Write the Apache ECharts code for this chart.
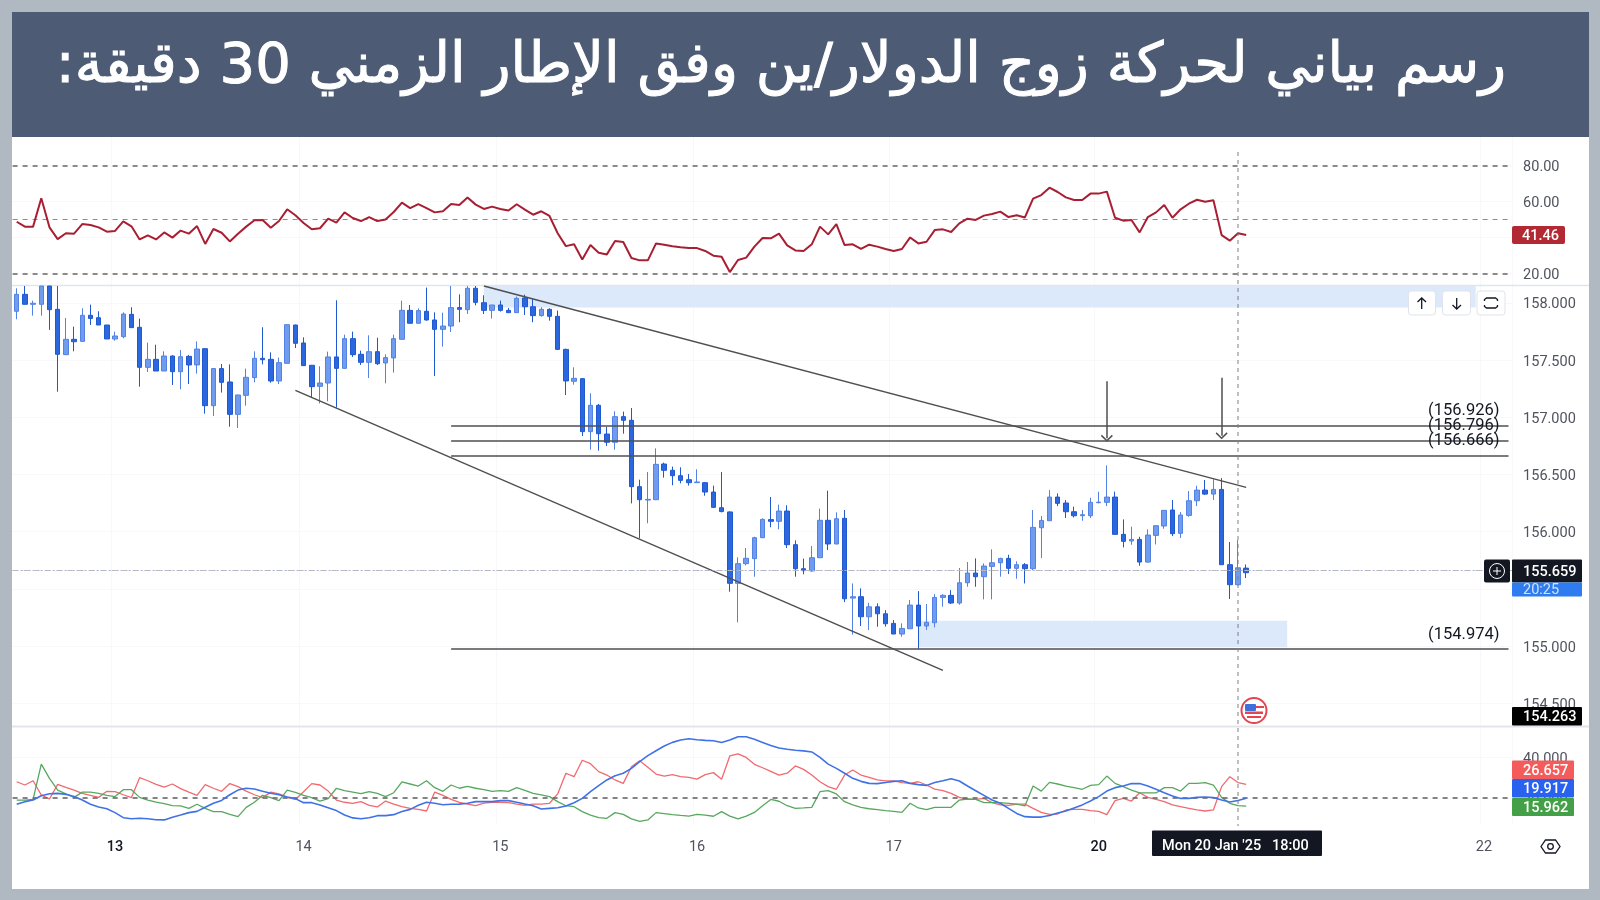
<!DOCTYPE html>
<html>
<head>
<meta charset="utf-8">
<style>html,body{margin:0;padding:0;background:#b0b8c1}#c{width:1600px;height:900px}</style>
<script src="https://cdn.jsdelivr.net/npm/echarts@6/dist/echarts.min.js"></script>
</head>
<body>
<div id="c"></div>
<script>
const titleText = '\u200Fرسم بياني لحركة زوج الدولار/ين وفق الإطار الزمني 30 دقيقة:\u200F';
const dayTicks = {12:'13',35:'14',59:'15',83:'16',107:'17',132:'20',179:'22'};
const strongDays = ['13','20'];
const slotCount = 183;
const categories = Array.from({length:slotCount},(_,i)=>String(i));
const priceTicks = [154.5,155,155.5,156,156.5,157,157.5,158];
const rsiTicks = [20,40,60,80];
const dmiTicks = [20,40];

const opens = [157.926,158.074,157.987,157.987,158.147,157.943,157.547,157.681,157.663,157.891,157.870,157.806,157.684,157.704,157.899,157.786,157.436,157.506,157.404,157.535,157.398,157.532,157.457,157.599,157.101,157.425,157.308,157.025,157.191,157.346,157.515,157.506,157.317,157.471,157.806,157.649,157.454,157.270,157.299,157.527,157.427,157.687,157.550,157.480,157.573,157.474,157.518,157.681,157.934,157.821,
157.926,157.850,157.768,157.797,157.958,157.940,158.127,158.001,157.934,157.981,157.934,157.914,158.042,157.966,157.888,157.943,157.882,157.593,157.314,157.337,156.874,157.104,156.853,156.781,157.005,156.973,156.393,156.276,156.279,156.591,156.536,156.489,156.454,156.428,156.428,156.346,156.209,156.172,155.548,155.720,155.764,155.947,156.105,156.090,156.180,155.886,155.676,155.656,155.772,156.099,155.892,
156.116,155.419,155.431,155.256,155.343,155.282,155.198,155.105,155.151,155.358,155.175,155.204,155.425,155.443,155.376,155.553,155.638,155.606,155.696,155.728,155.766,155.679,155.711,155.676,156.034,156.095,156.302,156.250,156.174,156.139,156.139,156.253,156.256,156.302,155.976,155.918,155.932,155.734,155.967,156.049,156.189,155.985,156.142,156.270,156.363,156.328,156.369,155.711,155.536,155.681];
const closes = [158.074,157.987,157.996,158.147,157.940,157.550,157.681,157.660,157.891,157.864,157.806,157.684,157.710,157.902,157.783,157.436,157.506,157.404,157.535,157.398,157.529,157.457,157.596,157.101,157.425,157.305,157.025,157.194,157.349,157.515,157.503,157.317,157.477,157.809,157.646,157.451,157.267,157.299,157.527,157.427,157.687,157.547,157.480,157.573,157.468,157.521,157.687,157.934,157.821,157.932,
157.850,157.768,157.797,157.958,157.943,158.127,158.004,157.934,157.981,157.934,157.914,158.039,157.966,157.888,157.943,157.882,157.593,157.317,157.340,156.874,157.104,156.856,156.781,157.005,156.973,156.393,156.279,156.282,156.588,156.536,156.489,156.448,156.428,156.434,156.346,156.212,156.175,155.548,155.720,155.767,155.947,156.107,156.090,156.180,155.886,155.676,155.659,155.772,156.099,155.892,156.113,
155.413,155.431,155.256,155.343,155.282,155.195,155.105,155.154,155.358,155.175,155.207,155.425,155.443,155.376,155.553,155.638,155.606,155.699,155.728,155.766,155.679,155.711,155.676,156.037,156.098,156.302,156.247,156.174,156.139,156.148,156.256,156.258,156.302,155.976,155.915,155.932,155.734,155.970,156.052,156.186,155.982,156.145,156.270,156.363,156.328,156.369,155.711,155.536,155.684,155.641];
const lows = [157.856,157.984,157.888,157.888,157.763,157.223,157.544,157.576,157.660,157.806,157.806,157.684,157.669,157.690,157.783,157.267,157.395,157.404,157.404,157.282,157.244,157.290,157.381,157.031,157.011,157.215,156.917,156.906,157.101,157.305,157.462,157.302,157.290,157.471,157.605,157.448,157.171,157.121,157.139,157.084,157.425,157.527,157.457,157.343,157.457,157.296,157.390,157.681,157.821,157.821,
157.844,157.360,157.617,157.745,157.830,157.902,157.978,157.902,157.862,157.923,157.914,157.914,157.894,157.830,157.879,157.844,157.588,157.194,157.285,156.836,156.716,156.708,156.749,156.716,156.856,156.247,155.941,156.073,156.276,156.472,156.405,156.422,156.402,156.428,156.314,156.207,156.169,155.475,155.207,155.705,155.606,155.944,156.038,156.020,155.857,155.606,155.627,155.650,155.769,155.839,155.889,
155.384,155.099,155.175,155.140,155.169,155.169,155.105,155.081,155.151,154.974,155.140,155.163,155.344,155.367,155.361,155.518,155.518,155.408,155.408,155.606,155.629,155.588,155.547,155.664,155.769,156.095,156.223,156.119,156.124,156.095,156.119,156.247,156.223,155.976,155.862,155.885,155.702,155.728,155.888,156.025,155.961,155.944,156.130,156.223,156.320,156.276,155.711,155.411,155.530,155.594];
const highs = [158.127,158.147,158.019,158.147,158.147,158.147,157.867,157.792,157.952,157.984,157.926,157.806,157.748,157.917,157.961,157.862,157.652,157.634,157.576,157.541,157.588,157.544,157.663,157.605,157.427,157.465,157.462,157.197,157.425,157.576,157.786,157.567,157.521,157.812,157.809,157.698,157.457,157.445,157.573,158.022,157.722,157.748,157.582,157.716,157.695,157.550,157.722,158.019,157.981,157.952,
158.133,157.917,157.914,158.147,158.074,158.147,158.147,158.066,157.981,158.019,157.955,158.054,158.071,158.031,157.961,157.952,157.932,157.599,157.436,157.340,157.209,157.116,156.917,157.052,157.049,157.081,156.454,156.521,156.728,156.603,156.568,156.562,156.504,156.545,156.434,156.402,156.521,156.177,155.775,155.857,155.956,156.116,156.303,156.236,156.230,155.924,155.764,155.874,156.201,156.358,156.169,
156.189,155.547,155.504,155.378,155.373,155.314,155.227,155.198,155.402,155.480,155.367,155.454,155.454,155.489,155.682,155.734,155.766,155.722,155.845,155.772,155.798,155.740,155.725,156.189,156.136,156.363,156.334,156.276,156.218,156.189,156.296,156.349,156.579,156.349,156.107,156.043,155.955,156.020,156.054,156.189,156.276,156.171,156.355,156.401,156.451,156.457,156.468,155.909,155.926,155.713];

const rsi = [48.8,46.1,46.1,61.8,45.7,39.2,42.4,42.2,47.5,47.0,45.7,43.3,43.7,49.0,46.3,39.0,41.3,39.0,42.9,40.0,43.9,42.2,46.4,36.5,44.8,42.7,37.9,42.2,46.1,49.6,49.8,45.5,49.2,55.7,52.4,48.1,44.6,45.2,50.5,48.3,54.0,50.9,49.2,51.4,49.2,50.1,54.2,59.4,56.4,58.6,
56.4,54.0,54.6,58.6,58.1,62.3,58.3,55.9,57.2,55.9,55.0,58.5,55.5,52.7,54.6,52.0,42.4,35.3,36.3,27.9,35.9,31.6,30.7,38.1,37.6,28.7,27.4,27.4,36.8,36.1,35.2,34.6,34.2,34.2,32.6,30.0,29.4,20.9,27.6,28.9,35.0,39.8,39.6,42.2,35.7,32.9,
32.6,36.3,46.1,41.8,47.5,35.9,36.3,33.7,36.1,35.0,33.7,32.6,33.7,40.1,36.8,37.7,44.2,44.6,43.1,47.9,50.5,49.8,52.2,53.1,54.4,51.4,52.4,51.2,61.6,63.6,67.7,65.3,62.3,60.9,60.9,64.4,64.4,65.5,51.0,49.4,49.8,42.9,51.4,54.0,58.1,51.0,55.7,58.8,61.0,59.9,60.7,41.4,38.3,42.4,41.46];
const diPlus = [28.0,26.4,28.5,21.5,19.5,26.7,25.2,23.9,22.3,21.3,20.3,23.3,23.1,21.6,20.2,30.0,28.5,26.7,25.4,26.9,24.6,22.9,21.3,26.6,24.8,23.3,27.1,25.6,23.4,21.6,20.2,22.9,22.0,20.3,19.3,23.1,27.1,26.4,23.4,19.0,17.9,17.4,18.2,16.4,15.6,18.5,17.0,15.7,14.9,14.4,13.6,22.9,21.3,19.3,17.9,17.0,16.2,17.5,17.9,17.9,17.7,17.0,16.4,17.0,17.0,17.4,22.0,32.2,30.5,38.6,36.9,33.0,31.3,28.9,27.2,35.4,38.4,35.1,31.8,30.8,31.5,30.5,30.2,29.3,31.5,32.5,29.2,40.7,41.7,40.0,36.6,34.9,33.1,31.3,32.2,35.8,
34.1,31.3,28.0,25.6,24.3,31.3,33.8,31.3,30.2,28.9,28.4,28.4,27.6,27.2,28.0,26.4,24.4,23.6,22.3,20.3,19.3,19.3,19.8,17.7,16.6,16.4,17.0,17.0,14.9,12.9,11.9,12.1,14.1,14.4,14.4,13.8,13.4,11.8,18.7,19.8,18.5,22.6,20.3,19.3,18.2,16.6,15.7,14.9,14.1,13.6,14.1,25.6,30.5,27.6,26.657];
const diMinus = [19.0,19.0,19.3,36.7,29.7,23.9,22.0,20.3,22.9,22.9,22.3,21.3,20.7,24.1,24.1,20.3,19.0,18.0,17.2,16.2,16.1,14.9,16.9,14.9,13.3,13.3,11.9,10.8,15.4,17.9,21.3,20.2,18.7,23.9,22.8,21.3,20.2,18.5,19.7,24.8,23.6,22.9,22.1,23.1,22.3,20.7,22.6,27.9,26.9,25.9,28.5,25.1,23.3,26.4,24.8,25.7,24.8,24.1,23.3,23.6,23.3,25.1,23.8,22.3,21.5,20.7,18.2,16.2,15.7,13.3,11.6,10.3,10.0,12.8,11.9,9.7,8.5,9.2,12.8,12.3,11.8,11.4,11.1,11.9,11.6,11.0,13.3,11.1,9.7,11.1,12.9,16.2,19.3,18.4,16.2,14.9,
15.1,15.4,23.1,23.6,22.0,18.2,16.6,15.4,14.7,14.3,13.8,13.4,12.9,17.4,15.1,14.3,15.4,15.4,15.4,19.0,19.5,19.3,17.7,17.7,17.7,17.4,17.0,16.1,25.9,23.4,27.7,26.9,25.9,25.1,24.3,26.2,26.6,30.8,27.2,25.6,23.9,22.5,22.5,22.5,25.1,25.1,23.4,27.2,27.2,27.6,26.4,20.3,17.4,16.2,15.962];
const adx = [16.9,18.2,19.0,21.1,22.1,22.3,21.8,20.7,19.0,16.9,15.6,14.7,12.8,10.3,9.8,10.0,9.8,9.3,9.2,10.5,11.6,12.8,13.4,15.4,17.4,18.8,21.6,23.9,24.8,24.4,23.3,22.3,21.6,20.5,19.7,17.7,17.7,16.6,15.2,13.8,11.6,10.2,9.8,10.3,11.3,11.3,11.8,13.3,14.4,16.4,17.9,17.4,16.7,16.9,17.0,17.4,18.2,18.2,18.2,18.7,18.7,17.9,17.0,16.2,14.6,14.9,15.2,16.1,17.7,19.8,23.1,26.1,28.9,31.0,32.2,34.6,37.9,40.9,43.3,45.6,47.4,48.6,49.2,48.7,48.4,48.2,47.3,48.6,50.2,50.2,48.9,47.4,45.9,44.6,44.0,43.5,
43.2,42.7,40.0,36.7,34.6,32.2,29.7,28.2,27.2,27.1,27.6,28.2,28.5,27.2,26.6,26.2,27.6,28.5,29.5,28.4,25.9,23.6,21.3,19.0,17.4,14.9,12.4,10.8,10.6,10.6,11.4,12.6,13.6,15.1,16.6,18.5,20.7,23.4,25.1,25.9,27.1,27.1,25.9,24.3,22.6,21.0,19.8,19.8,20.3,20.5,20.2,19.0,18.0,18.8,19.917];

const levelLines = [{price:156.926,from:53,to:182,label:'(156.926)'},{price:156.796,from:53,to:182,label:'(156.796)'},{price:156.666,from:53,to:182,label:'(156.666)'},{price:154.974,from:53,to:182,label:'(154.974)'}];
const trendLines = [[[57,158.147],[150,156.387]],[[34,157.235],[113,154.787]]];
const arrowLines = [[[133,157.315],[133,156.816]],[[147,157.345],[147,156.837]]];
const zones = [[[57,158.147],[178,157.96]],[[110,155.22],[155,154.99]]];
const lastPrice = 155.659;
const crossIndex = 149;

const candles = opens.map((o,i)=>[o,closes[i],lows[i],highs[i]]);
const font = 'Roboto, sans-serif';
const labelColor = '#50535e';
const gridLine = '#f8f8fa';
const frameColor = '#b0b8c1';
const barColor = '#4d5c74';
const drawColor = '#4f4f52';

const panes = [
  {top:137,height:148,min:13.73,max:95.8,ticks:rsiTicks,digits:2},
  {top:286,height:440,min:154.301,max:158.147,ticks:priceTicks,digits:3},
  {top:727,height:97,min:7.19,max:54.98,ticks:dmiTicks,digits:3}
];
const isDay = i => dayTicks[i] !== undefined;

const chart = echarts.init(document.getElementById('c'),null,{renderer:'canvas'});

const grid = panes.map(p=>({left:12.6,width:1500,top:p.top,height:p.height,containLabel:false}));
const xAxis = panes.map((p,k)=>({
  type:'category',gridIndex:k,data:categories,boundaryGap:true,
  axisLine:{show:false},
  axisTick:{show:false,alignWithLabel:true,interval:0},
  splitLine:{show:true,interval:(i)=>isDay(i),lineStyle:{color:gridLine,width:1}},
  axisLabel:k===2?{
    show:true,interval:0,margin:16,hideOverlap:false,fontFamily:font,fontSize:14.5,color:labelColor,
    formatter:(v,i)=>{const t=dayTicks[i];return t?(strongDays.includes(t)?'{b|'+t+'}':t):'';},
    rich:{b:{fontFamily:font,fontSize:14.5,color:'#131722',fontWeight:500}}
  }:{show:false}
}));
const yAxis = panes.map((p,k)=>({
  type:'value',gridIndex:k,position:'right',min:p.min,max:p.max,scale:true,
  axisLine:{show:false},
  axisTick:{show:false,customValues:p.ticks},
  splitLine:{show:true,lineStyle:{color:gridLine,width:1}},
  axisLabel:{show:true,inside:false,margin:10.5,fontFamily:font,fontSize:14.5,color:labelColor,align:'left',verticalAlign:'top',lineHeight:4,
    customValues:p.ticks,formatter:v=>Number(v).toFixed(p.digits)}
}));

const openArrow = 'path://M0,0 L6,6 L5,7.2 L0,2.2 L-5,7.2 L-6,6 Z';
const dash = (v,color,width,dashArr)=>({yAxis:v,lineStyle:{color,width,type:dashArr}});
const series = [
  {name:'RSI',type:'line',xAxisIndex:0,yAxisIndex:0,data:rsi,showSymbol:false,symbol:'none',
   lineStyle:{color:'#a81f33',width:2},z:5,
   markLine:{silent:true,symbol:'none',label:{show:false},animation:false,
     data:[dash(80,'#6f6f6f',1.6,[5,5]),dash(50,'#8c8c8c',1,[5,5]),dash(20,'#6f6f6f',1.6,[5,5])]}},
  {name:'Price',type:'candlestick',xAxisIndex:1,yAxisIndex:1,data:candles,barWidth:5,clip:true,z:5,
   itemStyle:{color:'#6f9cee',color0:'#2b68e0',borderColor:'#5382e2',borderColor0:'#2058cf',borderWidth:1},
   markArea:{silent:true,z:1,itemStyle:{color:'#dce9fa',opacity:1},label:{show:false},
     data:zones.map(z=>[{coord:z[0]},{coord:z[1]}])},
   markLine:{silent:true,symbol:'none',animation:false,precision:3,z:6,
     label:{show:false},lineStyle:{type:'solid',color:drawColor,width:1.5},
     data:[
       ...levelLines.map(l=>[
         {coord:[l.from,l.price],label:{show:true,formatter:l.label,position:'insideEndTop',distance:[9,6],fontFamily:font,fontSize:16.5,color:'#131722'}},
         {coord:[l.to,l.price]}]),
       ...trendLines.map(t=>[{coord:t[0]},{coord:t[1]}]),
       ...arrowLines.map(a=>[{coord:a[0],symbol:'none',lineStyle:{color:drawColor,width:1.5}},{coord:a[1],symbol:openArrow,symbolSize:[12,7],symbolKeepAspect:false,itemStyle:{color:drawColor},lineStyle:{color:drawColor,width:1.5}}]),
       {yAxis:lastPrice,lineStyle:{color:'#a7b0d8',width:1,type:[2,2]}},
       {yAxis:lastPrice,lineStyle:{color:'#b8b8b8',width:1,type:[5,6]}}
     ]}},
  {name:'+DI',type:'line',xAxisIndex:2,yAxisIndex:2,data:diPlus,symbol:'none',lineStyle:{color:'#f06a6f',width:1.3},z:4,
   markLine:{silent:true,symbol:'none',label:{show:false},animation:false,data:[dash(20,'#666',1.6,[5,5])]}},
  {name:'-DI',type:'line',xAxisIndex:2,yAxisIndex:2,data:diMinus,symbol:'none',lineStyle:{color:'#57a85e',width:1.3},z:4},
  {name:'ADX',type:'line',xAxisIndex:2,yAxisIndex:2,data:adx,symbol:'none',lineStyle:{color:'#3f72e6',width:1.6},z:5}
];

const box = (x,y,w,h,fill,r,z)=>({type:'rect',z:z||100,silent:true,shape:{x,y,width:w,height:h,r:r||0},style:{fill}});
const txt = (x,y,text,fill,size,extra)=>({type:'text',z:110,silent:true,x,y,style:Object.assign({text,fill,fontFamily:font,fontSize:size,textAlign:'left',textVerticalAlign:'middle'},extra||{})});
const stroke = (points,color,w)=>({type:'polyline',z:110,silent:true,shape:{points},style:{stroke:color,lineWidth:w,fill:null}});
const hline = (x1,y,x2,color,w)=>({type:'line',z:3,silent:true,shape:{x1,y1:y,x2,y2:y},style:{stroke:color,lineWidth:w}});
const semi = {fontWeight:500};

const graphics = [
  box(0,0,1600,900,frameColor,0,-30),
  box(12,137,1577,752,'#ffffff',0,-29),
  box(12,12,1577,125,barColor,0,-28),
  {type:'text',z:110,silent:true,x:781,y:67,style:{text:titleText,fill:'#ffffff',stroke:'#ffffff',lineWidth:1,fontFamily:'"DejaVu Sans"',fontSize:56,textAlign:'center',textVerticalAlign:'middle'}},
  hline(12,285.5,1589,'#e3e5ea',1.5),
  hline(12,726.5,1589,'#e3e5ea',2),
  // value badges
  box(1512,226,53,18,'#b22833',2), txt(1522,236,'41.46','#ffffff',14.5,semi),
  box(1484,559.5,26,23,'#131722',2),
  {type:'circle',z:110,silent:true,shape:{cx:1497,cy:571,r:7.5},style:{stroke:'#fff',lineWidth:1,fill:null}},
  stroke([[1493,571],[1501,571]],'#fff',1), stroke([[1497,567],[1497,575]],'#fff',1),
  box(1512,559.5,70,23,'#131722',1), txt(1523,572,'155.659','#ffffff',14.5,semi),
  box(1512,582.5,70,14,'#2f7cf0',1), txt(1523,590.5,'20:25','#cfe2ff',14.5),
  box(1512,707,70,18.5,'#000000',1), txt(1523,717.5,'154.263','#ffffff',14.5,semi),
  box(1512,760.5,62,18.5,'#f45b5b',1), txt(1523,771,'26.657','#ffffff',14.5,semi),
  box(1512,779,62,18.5,'#2a62f0',1), txt(1523,789.5,'19.917','#ffffff',14.5,semi),
  box(1512,798,62,18,'#43a047',1), txt(1523,808,'15.962','#ffffff',14.5,semi),
  // time tag
  box(1152,830.5,170,25.5,'#131722',1), txt(1162,846,"Mon 20 Jan '25   18:00",'#ffffff',14.5,semi),
  // chart buttons
  {type:'rect',z:100,silent:true,shape:{x:1408.5,y:291,width:27,height:24,r:3},style:{fill:'#fff',stroke:'#e0e3eb',lineWidth:1}},
  {type:'rect',z:100,silent:true,shape:{x:1442.5,y:291,width:28,height:24,r:3},style:{fill:'#fff',stroke:'#e0e3eb',lineWidth:1}},
  {type:'rect',z:100,silent:true,shape:{x:1477,y:291,width:28,height:24,r:3},style:{fill:'#fff',stroke:'#e0e3eb',lineWidth:1}},
  stroke([[1421.7,309],[1421.7,298]],'#131722',1.3), stroke([[1417.5,302],[1421.7,298],[1426,302]],'#131722',1.3),
  stroke([[1456.7,298],[1456.7,309]],'#131722',1.3), stroke([[1452.5,305],[1456.7,309],[1461,305]],'#131722',1.3),
  stroke([[1484.5,301],[1484.5,299.5],[1486.5,298],[1495.5,298],[1497.5,299.5],[1497.5,301]],'#131722',1.3),
  stroke([[1484.5,305],[1484.5,306.5],[1486.5,308],[1495.5,308],[1497.5,306.5],[1497.5,305]],'#131722',1.3),
  // economic-event flag
  {type:'circle',z:100,silent:true,shape:{cx:1254,cy:710.5,r:12.5},style:{fill:'#fff',stroke:'#e4444f',lineWidth:2}},
  box(1245,704,11,7,'#3f6fd8',1), box(1245,711.5,18,2.5,'#e4444f',0), box(1247,716,14,2,'#e4444f',0), box(1256,706,8,2,'#e4444f',0),
  // settings icon
  {type:'polygon',z:110,silent:true,shape:{points:[[1541,846.5],[1545.5,840],[1555.5,840],[1560,846.5],[1555.5,853],[1545.5,853]]},style:{stroke:'#131722',lineWidth:1.3,fill:null}},
  {type:'circle',z:110,silent:true,shape:{cx:1550.5,cy:846.5,r:2.8},style:{stroke:'#131722',lineWidth:1.3,fill:null}}
];

chart.setOption({animation:false,backgroundColor:frameColor,grid,xAxis,yAxis,series});

// crosshair sits on the axis position of the highlighted bar
const crossX = chart.convertToPixel({xAxisIndex:2},crossIndex);
graphics.push({type:'line',z:50,silent:true,shape:{x1:crossX,y1:152,x2:crossX,y2:826},style:{stroke:'#7f7f7f',lineWidth:1,lineDash:[4,4]}});
chart.setOption({graphic:{elements:graphics}});
</script>
</body>
</html>
